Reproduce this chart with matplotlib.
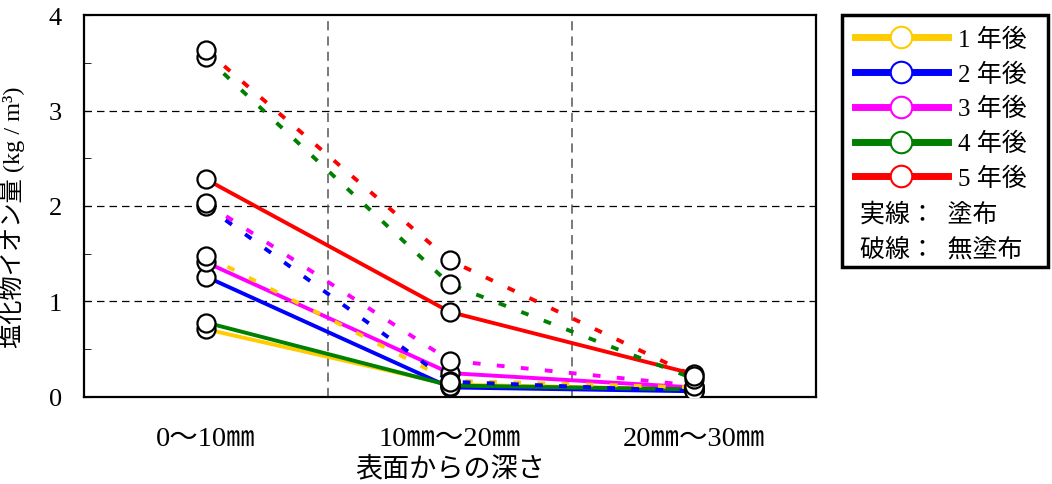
import matplotlib
matplotlib.use('Agg')
import matplotlib.pyplot as plt
from matplotlib.lines import Line2D
from matplotlib.patches import Rectangle

plt.rcParams['font.family'] = ['Liberation Serif', 'Noto Sans CJK JP']

# データ
depths = ['0～10㎜', '10㎜～20㎜', '20㎜～30㎜']
years = ['1 年後', '2 年後', '3 年後', '4 年後', '5 年後']
colors = ['#ffcc00', '#0000ff', '#ff00ff', '#008000', '#ff0000']

# 実線：塗布
coated = [
    [0.71, 0.13, 0.08],
    [1.26, 0.10, 0.06],
    [1.41, 0.25, 0.10],
    [0.78, 0.12, 0.08],
    [2.28, 0.89, 0.24],
]
# 破線：無塗布
uncoated = [
    [1.48, 0.17, 0.10],
    [2.00, 0.16, 0.06],
    [2.03, 0.38, 0.12],
    [3.56, 1.18, 0.19],
    [3.63, 1.43, 0.22],
]

fig = plt.figure(figsize=(10.52, 4.85), dpi=100)
ax = fig.add_axes([0.0798, 0.1794, 0.6959, 0.7876])

xs = list(range(len(depths)))
for c, ys in zip(colors, coated):
    ax.plot(xs, ys, color=c, lw=2.8, solid_capstyle='butt', zorder=3)
for c, ys in zip(colors, uncoated):
    ax.plot(xs, ys, color=c, lw=2.8, dashes=(2.0, 4.2), zorder=3)
for ys in coated + uncoated:
    ax.plot(xs, ys, ls='none', marker='o', ms=13, mfc='white', mec='black',
            mew=1.6, zorder=5)

ax.set_xlim(-0.5, 2.5)
ax.set_ylim(0, 4)
ax.set_xticks(xs)
ax.set_xticklabels(depths, fontsize=20.5)
ax.tick_params(axis='x', length=0, pad=21)
ax.set_yticks([0, 1, 2, 3, 4])
ax.set_yticks([0.5, 1.5, 2.5, 3.5], minor=True)
ax.tick_params(axis='y', which='both', direction='in', length=5, labelsize=19, pad=16)
for v in [1, 2, 3]:
    ax.axhline(v, color='black', lw=0.9, dashes=(6, 4), zorder=1)
for v in [0.5, 1.5]:
    ax.axvline(v, color='#555555', lw=1.1, dashes=(6, 4), zorder=1)
for s in ax.spines.values():
    s.set_linewidth(1.6)

ax.set_xlabel('表面からの深さ', fontsize=19.5, labelpad=3)
ax.set_ylabel('塩化物イオン量 (kg / m³)', fontsize=17.5)
ax.yaxis.set_label_coords(-0.0806, 0.474)

# 凡例
handles = [Line2D([], [], color=c, lw=5, marker='o', ms=15.5, mfc='white', mec=c, mew=1.5)
           for c in colors]
leg = ax.legend(handles, years, loc='upper left', bbox_to_anchor=(842 / 1052, 1 - 16 / 485),
                bbox_transform=fig.transFigure, frameon=False, fontsize=18,
                handlelength=3.75, handletextpad=0.4, labelspacing=0.46,
                borderpad=0)
fig.patches.append(Rectangle((842 / 1052, 1 - 268 / 485), 206 / 1052, 252 / 485,
                             transform=fig.transFigure, fill=False, lw=2.5,
                             edgecolor='black'))
fig.text(860 / 1052, 1 - 215 / 485, '実線：  塗布', fontsize=18, va='center')
fig.text(860 / 1052, 1 - 250 / 485, '破線：  無塗布', fontsize=18, va='center')

fig.savefig('out.png', dpi=100)
